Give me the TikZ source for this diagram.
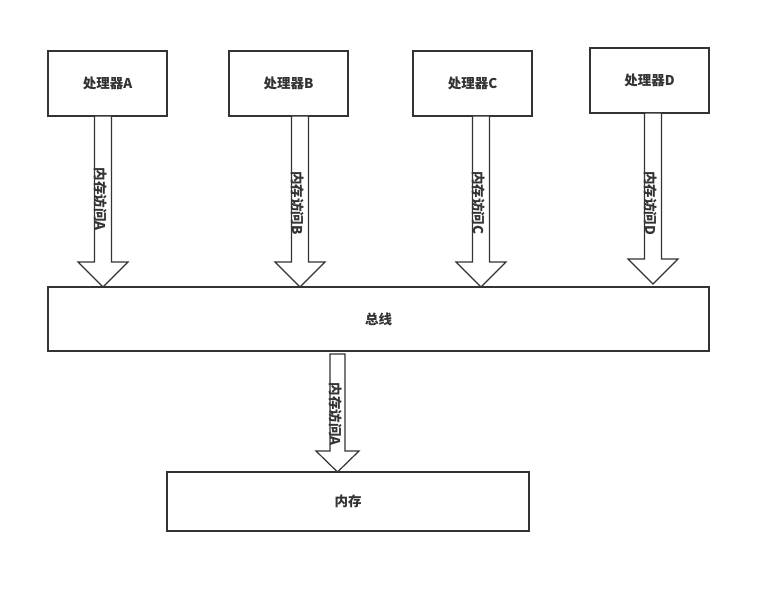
\documentclass[tikz,border=0pt]{standalone}
\usepackage{fontspec}
\setmainfont{Noto Sans CJK SC}
\definecolor{line}{HTML}{333333}
\definecolor{txt}{HTML}{333333}
\newcommand\blockarr[7]{% name, x, top y, tip y, shaft half, head half, head length
  \coordinate (#1t) at (#2,#3);
  \coordinate (#1h) at (#2,#4);
  \draw[arr] ([xshift=-#5pt]#1t) -- ([xshift=#5pt]#1t)
    -- ([xshift=#5pt,yshift=#7pt]#1h) -- ([xshift=#6pt,yshift=#7pt]#1h)
    -- (#1h) -- ([xshift=-#6pt,yshift=#7pt]#1h)
    -- ([xshift=-#5pt,yshift=#7pt]#1h) -- cycle;}
\begin{document}
\begin{tikzpicture}[x=1pt,y=-1pt,
  box/.style={draw=line, line width=1.4pt, fill=white, inner sep=0pt,
    font=\fontsize{13.5}{15}\selectfont\bfseries, text=txt},
  proc/.style={box, minimum width=119pt, minimum height=65pt},
  arr/.style={draw=line, line width=1.2pt, fill=white, line join=miter},
  alab/.style={rotate=-90, inner sep=0pt, font=\fontsize{13.5}{15}\selectfont\bfseries, text=txt}]
\useasboundingbox (0,0) rectangle (771,593);
\fill[white] (0,0) rectangle (771,593);
% boxes
\node[proc] (pA) at (107.5,83.5) {处理器A};
\node[proc] (pB) at (288.5,83.5) {处理器B};
\node[proc] (pC) at (472.5,83.5) {处理器C};
\node[proc] (pD) at (649.5,80.5) {处理器D};
\node[box, minimum width=661pt, minimum height=64pt] (bus) at (378.5,319) {总线};
\node[box, minimum width=362pt, minimum height=59pt] (mem) at (348,501.5) {内存};
% block arrows
\blockarr{aA}{103}{116}{287}{8.5}{25}{25}
\blockarr{aB}{300}{116}{287}{8.5}{25}{25}
\blockarr{aC}{481}{116}{287}{8.5}{25}{25}
\blockarr{aD}{653}{113}{284}{8.5}{25}{25}
\blockarr{aM}{337.5}{354}{472}{7.5}{21.5}{21}
% arrow labels
\node[alab] (lA) at (101,199) {内存访问A};
\node[alab] (lB) at (298,203) {内存访问B};
\node[alab] (lC) at (479,203) {内存访问C};
\node[alab] (lD) at (651,203) {内存访问D};
\node[alab] (lM) at (336,414) {内存访问A};
\end{tikzpicture}
\end{document}
